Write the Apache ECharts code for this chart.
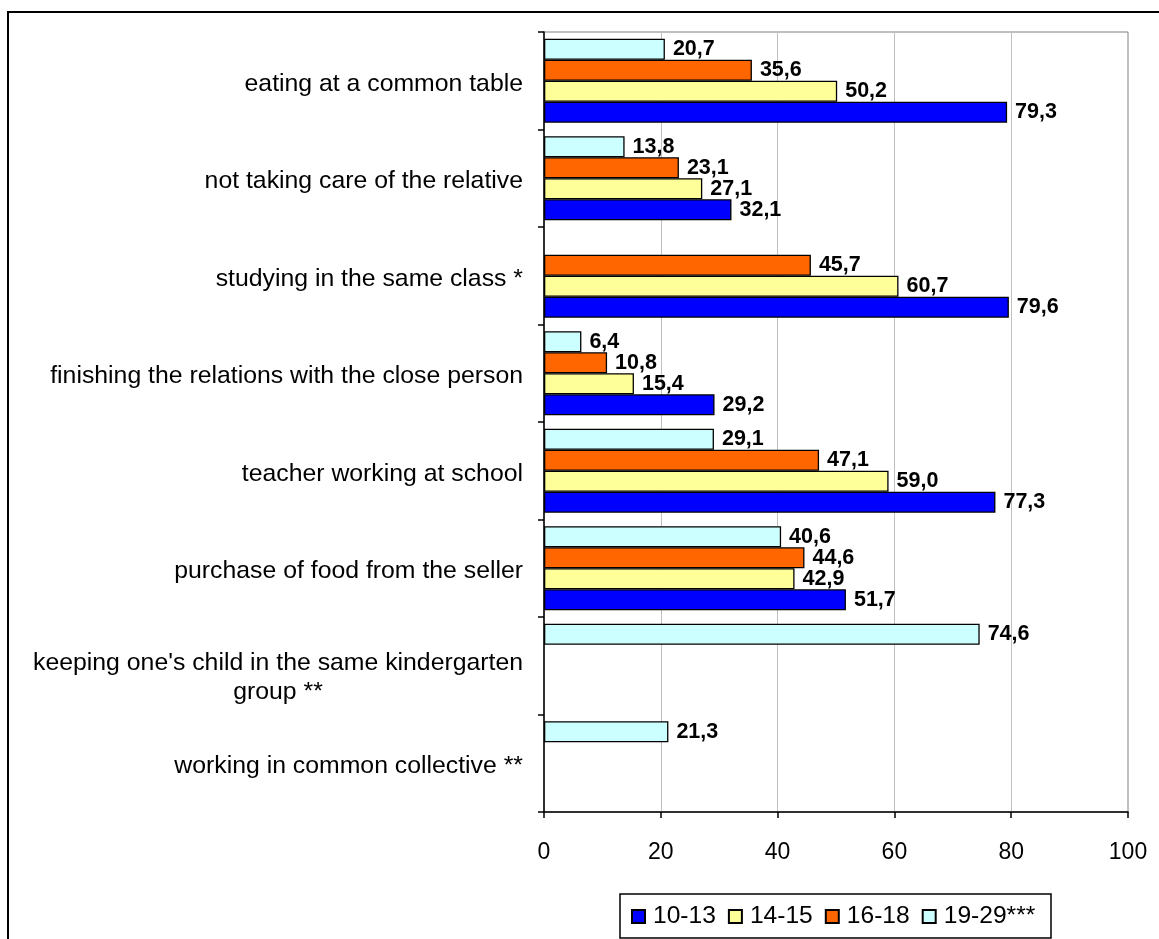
<!DOCTYPE html>
<html>
<head>
<meta charset="utf-8">
<script src="https://cdn.jsdelivr.net/npm/echarts@6/dist/echarts.min.js"></script>
<style>
html,body{margin:0;padding:0;background:#fff;}
#chart{width:1159px;height:939px;}
</style>
</head>
<body>
<div id="chart"></div>
<script>
const categories = [
  "eating at a common table",
  "not taking care of the relative",
  "studying in the same class *",
  "finishing the relations with the close person",
  "teacher working at school",
  "purchase of food from the seller",
  "keeping one's child in the same kindergarten\ngroup **",
  "working in common collective **"
];
const xTicks = [0, 20, 40, 60, 80, 100];
const age10_13 = [79.3, 32.1, 79.6, 29.2, 77.3, 51.7, null, null];
const age14_15 = [50.2, 27.1, 60.7, 15.4, 59.0, 42.9, null, null];
const age16_18 = [35.6, 23.1, 45.7, 10.8, 47.1, 44.6, null, null];
const age19_29 = [20.7, 13.8, null, 6.4, 29.1, 40.6, 74.6, 21.3];
const seriesNames = ["10-13", "14-15", "16-18", "19-29***"];

const FONT = "Liberation Sans, Arial, sans-serif";
const fmt = v => (v == null ? '' : v.toFixed(1).replace('.', ','));

function barSeries(name, data, color) {
  return {
    name: name,
    type: 'bar',
    data: data,
    barWidth: 21,
    barGap: '0%',
    itemStyle: { color: color, borderColor: '#000', borderWidth: 1.3 },
    label: {
      show: true,
      position: 'right',
      distance: 8,
      color: '#000',
      fontFamily: FONT,
      fontWeight: 'bold',
      fontSize: 21.5,
      formatter: p => fmt(p.value)
    },
    emphasis: { disabled: true },
    animation: false
  };
}

const chart = echarts.init(document.getElementById('chart'), null, { renderer: 'canvas' });
chart.setOption({
  backgroundColor: '#fff',
  animation: false,
  textStyle: { fontFamily: FONT },
  grid: {
    left: 544, top: 32, right: 31, bottom: 127,
    show: true, borderColor: '#808080', borderWidth: 1, backgroundColor: 'transparent'
  },
  xAxis: {
    type: 'value', min: xTicks[0], max: xTicks[xTicks.length - 1], interval: 20,
    axisLine: { show: true, lineStyle: { color: '#000', width: 1.5 } },
    axisTick: { show: true, length: 6, lineStyle: { color: '#000', width: 1.5 } },
    splitLine: { show: true, lineStyle: { color: '#c0c0c0', width: 1 } },
    axisLabel: { color: '#000', fontSize: 23, fontFamily: FONT, margin: 29 }
  },
  yAxis: {
    type: 'category', inverse: true, data: categories,
    axisLine: { show: true, lineStyle: { color: '#000', width: 1.5 } },
    axisTick: { show: true, length: 6, lineStyle: { color: '#000', width: 1.5 } },
    axisLabel: {
      color: '#000', fontSize: 24.8, fontFamily: FONT, margin: 21, align: 'right',
      padding: [6, 0, 0, 0],
      formatter: v => {
        const parts = v.split('\n');
        if (parts.length === 1) return '{c|' + v + '}';
        return '{top|}\n' + parts.map(s => '{m|' + s + '}').join('\n');
      },
      rich: {
        c: { align: 'center', fontSize: 24.8, fontFamily: FONT, color: '#000', lineHeight: 28 },
        m: { align: 'center', fontSize: 24.8, fontFamily: FONT, color: '#000', lineHeight: 29 },
        top: { lineHeight: 18, fontSize: 1 }
      }
    }
  },
  legend: {
    data: seriesNames,
    left: 631, top: 904,
    orient: 'horizontal',
    itemWidth: 13, itemHeight: 13, itemGap: 12,
    icon: 'rect',
    padding: 0,
    textStyle: { color: '#000', fontSize: 24.6, fontFamily: FONT, padding: [0, 0, 0, 3] },
    selectedMode: false
  },
  graphic: [
    { type: 'rect', shape: { x: 8, y: 12, width: 1200, height: 1000 },
      style: { fill: 'none', stroke: '#000', lineWidth: 2 }, silent: true, z: 100 },
    { type: 'rect', shape: { x: 620, y: 894, width: 431, height: 44 },
      style: { fill: 'none', stroke: '#000', lineWidth: 1.5 }, silent: true, z: 100 }
  ],
  series: [
    barSeries(seriesNames[3], age19_29, '#CCFFFF'),
    barSeries(seriesNames[2], age16_18, '#FF6600'),
    barSeries(seriesNames[1], age14_15, '#FFFF99'),
    barSeries(seriesNames[0], age10_13, '#0000FF')
  ]
});
</script>
</body>
</html>
